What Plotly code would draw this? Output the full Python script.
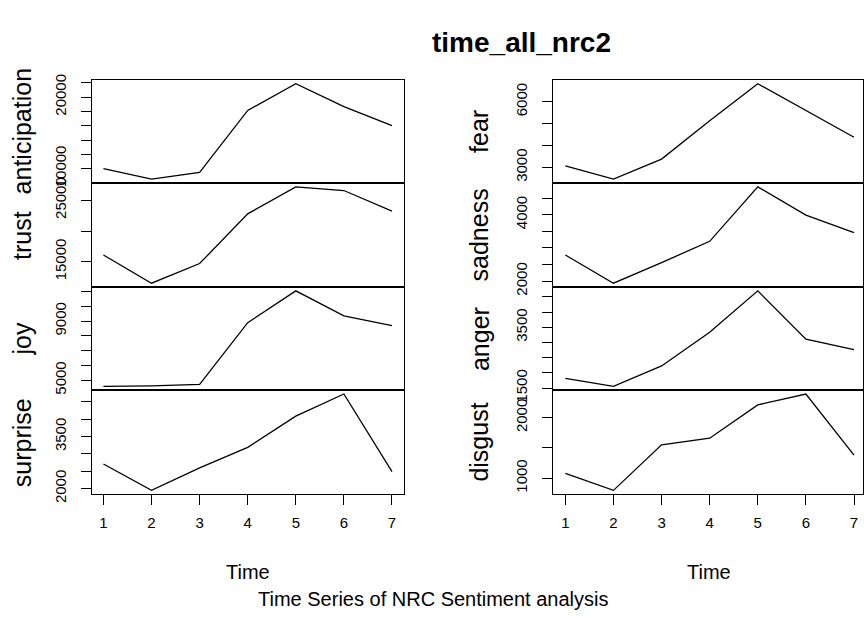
import plotly.graph_objects as go

W, H = 864, 620

time = [1, 2, 3, 4, 5, 6, 7]

anticipation = [10000, 8530, 9470, 18130, 21870, 18670, 16000]
trust = [16100, 11500, 14700, 22800, 27200, 26600, 23250]
joy = [4590, 4620, 4720, 8890, 11040, 9350, 8690]
surprise = [2710, 1950, 2600, 3190, 4090, 4730, 2490]
fear = [3070, 2460, 3380, 5130, 6830, 5610, 4380]
sadness = [2790, 1940, 2560, 3200, 4840, 3990, 3460]
anger = [1820, 1560, 2230, 3340, 4700, 3110, 2770]
disgust = [1080, 800, 1550, 1660, 2210, 2390, 1380]

# tick values and the subset that carry labels
ticks_anticipation = [10000, 12000, 14000, 16000, 18000, 20000, 22000]
labels_anticipation = [10000, 20000]
ticks_trust = [15000, 20000, 25000]
labels_trust = [15000, 25000]
ticks_joy = [5000, 6000, 7000, 8000, 9000, 10000, 11000]
labels_joy = [5000, 9000]
ticks_surprise = [2000, 2500, 3000, 3500, 4000, 4500]
labels_surprise = [2000, 3500]
ticks_fear = [3000, 4000, 5000, 6000]
labels_fear = [3000, 6000]
ticks_sadness = [2000, 2500, 3000, 3500, 4000, 4500]
labels_sadness = [2000, 4000]
ticks_anger = [1500, 2000, 2500, 3000, 3500, 4000, 4500]
labels_anger = [1500, 3500]
ticks_disgust = [1000, 1500, 2000]
labels_disgust = [1000, 2000]

x_ticks = [1, 2, 3, 4, 5, 6, 7]

title = "time_all_nrc2"
xlab = "Time"
sub_title = "Time Series of NRC Sentiment analysis"

panels = [
    ("anticipation", anticipation, ticks_anticipation, labels_anticipation, 0, 0),
    ("trust", trust, ticks_trust, labels_trust, 0, 1),
    ("joy", joy, ticks_joy, labels_joy, 0, 2),
    ("surprise", surprise, ticks_surprise, labels_surprise, 0, 3),
    ("fear", fear, ticks_fear, labels_fear, 1, 0),
    ("sadness", sadness, ticks_sadness, labels_sadness, 1, 1),
    ("anger", anger, ticks_anger, labels_anger, 1, 2),
    ("disgust", disgust, ticks_disgust, labels_disgust, 1, 3),
]

FONT = "Liberation Sans, Arial, Helvetica, sans-serif"

# layout geometry in pixels of the 864x620 picture
col_px = [(92, 404), (554, 864)]
col_range = [(0.76, 7.24), (1 - 12 / 48.17, 7 + 9 / 48.17)]
row_px = [(77, 183), (183, 290), (290, 396), (396, 503)]
ylab_x = [22, 480]

fig = go.Figure()
layout = dict(
    autosize=True,
    margin=dict(l=0, r=0, t=0, b=0, pad=0),
    paper_bgcolor="white", plot_bgcolor="white",
    showlegend=False,
    font=dict(family=FONT, color="black"),
)
annotations = []

for i, (name, vals, tvals, tlabels, col, row) in enumerate(panels):
    idx = i + 1
    xa = "xaxis" if idx == 1 else f"xaxis{idx}"
    ya = "yaxis" if idx == 1 else f"yaxis{idx}"
    xr = "x" if idx == 1 else f"x{idx}"
    yr = "y" if idx == 1 else f"y{idx}"
    fig.add_trace(go.Scatter(x=time, y=vals, mode="lines",
                             line=dict(color="black", width=1.3),
                             xaxis=xr, yaxis=yr, hoverinfo="skip"))
    lo, hi = min(vals), max(vals)
    span = hi - lo
    yrange = [lo - 0.04 * span, hi + 0.04 * span]
    x0, x1 = col_px[col]
    y0, y1 = row_px[row]
    bottom = row == 3
    layout[xa] = dict(
        domain=[x0 / W, x1 / W], range=list(col_range[col]), anchor=yr,
        showline=True, mirror=True, linecolor="black", linewidth=1.2,
        showgrid=False, zeroline=False,
        tickvals=x_ticks if bottom else [],
        ticks="outside" if bottom else "", ticklen=10, tickwidth=1.2, tickcolor="black",
        showticklabels=bottom, tickfont=dict(size=15, family=FONT),
        ticklabelstandoff=5,
    )
    layout[ya] = dict(
        domain=[1 - y1 / H, 1 - y0 / H], range=yrange, anchor=xr,
        showline=True, mirror=True, linecolor="black", linewidth=1.2,
        showgrid=False, zeroline=False,
        tickvals=tvals,
        ticktext=[str(v) if v in tlabels else "" for v in tvals],
        ticks="outside", ticklen=10, tickwidth=1.2, tickcolor="black",
        tickangle=-90, tickfont=dict(size=15, family=FONT),
        ticklabelstandoff=9,
    )
    annotations.append(dict(
        text=name, x=ylab_x[col] / W, y=1 - (y0 + y1) / 2 / H,
        xref="paper", yref="paper", xanchor="center", yanchor="middle",
        textangle=-90, showarrow=False, font=dict(size=25, family=FONT),
    ))

annotations.append(dict(text=f"<b>{title}</b>", x=522 / W, y=1 - 39 / H,
                        xref="paper", yref="paper", xanchor="center", yanchor="middle",
                        showarrow=False, font=dict(size=28, family=FONT)))
for cx in (248, 710):
    annotations.append(dict(text=xlab, x=cx / W, y=1 - 583 / H,
                            xref="paper", yref="paper", xanchor="center", yanchor="middle",
                            showarrow=False, font=dict(size=20, family=FONT)))
annotations.append(dict(text=sub_title, x=434 / W, y=1 - 611 / H,
                        xref="paper", yref="paper", xanchor="center", yanchor="middle",
                        showarrow=False, font=dict(size=20, family=FONT)))

layout["annotations"] = annotations
fig.update_layout(**layout)
fig.write_html(
    "out.html",
    default_width="100vw",
    default_height="100vh",
    config={"displayModeBar": False, "responsive": True},
    post_script=(
        "document.documentElement.style.overflow='hidden';"
        "document.body.style.margin='0px';"
        "document.body.style.overflow='hidden';"
    ),
)
